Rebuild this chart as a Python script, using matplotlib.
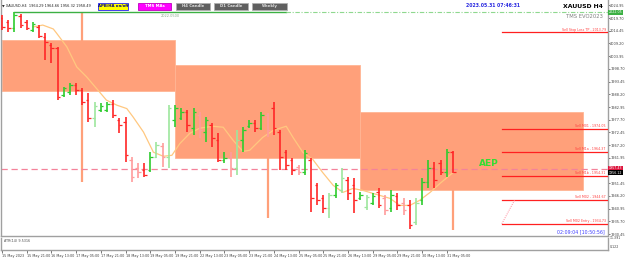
import matplotlib
matplotlib.use('Agg')
import matplotlib.pyplot as plt
from matplotlib.patches import Rectangle

# ---------------- data ----------------
opens = [2019.7, 2018.1, 2015.6, 2020.5, 2018.1, 2014.7, 2016.0, 2011.8, 2008.5, 2007.3,
         1987.8, 1989.1, 1992.0, 1989.9, 1985.8, 1978.3, 1981.6, 1981.6, 1984.1, 1977.5,
         1976.6, 1960.9, 1957.6, 1956.8, 1956.8, 1962.2, 1966.7, 1962.2, 1977.5, 1978.3,
         1980.8, 1974.2, 1979.6, 1972.5, 1975.4, 1969.2, 1960.9, 1961.8, 1957.6, 1969.2,
         1975.0, 1976.2, 1974.2, 1979.6, 1982.4, 1972.5, 1964.2, 1960.9, 1958.0, 1955.9,
         1960.9, 1950.6, 1945.2, 1941.1, 1946.4, 1948.5, 1952.6, 1950.6, 1945.2, 1941.5,
         1943.1, 1947.7, 1945.2, 1941.1, 1946.0, 1943.1, 1942.3, 1935.3, 1944.4, 1951.8,
         1957.6, 1959.7, 1955.9, 1964.29]
highs = [2020.9, 2018.9, 2022.05, 2021.4, 2018.9, 2018.1, 2016.8, 2013.5, 2009.4, 2007.7,
         1991.1, 1992.8, 1992.8, 1990.7, 1988.7, 1984.9, 1984.5, 1984.9, 1985.8, 1978.3,
         1978.7, 1962.2, 1959.7, 1959.7, 1964.2, 1968.4, 1967.9, 1983.7, 1983.7, 1982.4,
         1981.6, 1982.4, 1980.8, 1978.7, 1976.2, 1972.1, 1964.2, 1964.2, 1973.3, 1974.6,
         1977.5, 1977.5, 1980.8, 1980.4, 1984.9, 1973.3, 1965.1, 1961.8, 1958.9, 1965.1,
         1961.8, 1951.4, 1946.4, 1947.3, 1951.4, 1957.6, 1953.9, 1953.5, 1947.7, 1946.4,
         1947.3, 1949.3, 1946.4, 1948.5, 1947.3, 1945.2, 1944.4, 1945.2, 1953.5, 1960.9,
         1960.1, 1960.9, 1965.5, 1964.66]
lows = [2014.7, 2013.9, 2013.9, 2015.6, 2014.7, 2013.9, 2011.4, 2002.3, 2001.1, 1985.8,
        1987.0, 1987.8, 1987.8, 1983.7, 1976.7, 1974.6, 1980.8, 1980.8, 1978.3, 1972.1,
        1960.1, 1951.8, 1953.5, 1953.9, 1955.9, 1961.8, 1958.0, 1957.6, 1974.6, 1977.5,
        1972.5, 1971.3, 1970.0, 1968.4, 1966.3, 1960.1, 1959.7, 1953.9, 1954.7, 1964.2,
        1974.2, 1972.5, 1973.3, 1970.4, 1971.3, 1956.8, 1956.8, 1954.7, 1954.7, 1954.7,
        1939.4, 1942.3, 1939.0, 1936.9, 1945.2, 1947.3, 1944.4, 1939.0, 1944.4, 1940.2,
        1942.3, 1941.1, 1938.2, 1939.4, 1940.2, 1938.2, 1932.4, 1934.0, 1942.3, 1949.3,
        1949.3, 1954.7, 1953.9, 1955.80]
closes = [2016.0, 2015.6, 2020.9, 2016.8, 2015.6, 2017.2, 2012.3, 2009.8, 2007.3, 1987.0,
          1990.7, 1992.0, 1989.9, 1984.9, 1978.3, 1983.3, 1983.3, 1984.1, 1979.6, 1975.4,
          1963.0, 1953.9, 1955.9, 1954.7, 1962.2, 1967.1, 1962.2, 1982.4, 1982.4, 1980.8,
          1975.4, 1980.8, 1973.3, 1977.5, 1970.0, 1960.9, 1961.8, 1957.6, 1969.2, 1973.3,
          1976.2, 1974.2, 1979.6, 1973.3, 1974.2, 1962.2, 1958.9, 1956.8, 1955.9, 1963.8,
          1945.2, 1944.4, 1941.1, 1946.4, 1950.6, 1953.5, 1947.3, 1944.4, 1946.8, 1945.6,
          1946.0, 1942.3, 1940.2, 1946.4, 1942.3, 1940.2, 1934.0, 1943.5, 1951.8, 1957.6,
          1952.6, 1955.9, 1964.2, 1956.12]
light_bars = [15, 21, 22, 25, 26, 27, 32, 37, 38, 43, 48, 53, 55, 59, 62, 65, 67]

ma_idx = [5, 6.6, 8.3, 8.85, 10.5, 12.1, 13.7, 15.3, 16.9, 18.6, 20.2, 21.2, 22.9, 24.5,
          26.1, 27.5, 28.8, 30.4, 32, 34.1, 35.8, 37.4, 39, 40.1, 42.2, 43.9, 46, 47.1,
          48.7, 50.3, 51.9, 53.6, 55.2, 56.8, 58.4, 60, 61.2, 62.8, 64.4, 66, 67.6, 69.3,
          70.9, 73]
ma_val = [2016.0, 2016.8, 2015.2, 2013.4, 2007.8, 1999.5, 1995.4, 1990.6, 1985.8, 1983.7,
          1982.3, 1978.9, 1972.6, 1964.3, 1962.6, 1963.0, 1967.9, 1972.1, 1974.2, 1975.0,
          1974.6, 1969.2, 1964.6, 1965.1, 1970.4, 1973.3, 1975.0, 1970.4, 1964.2, 1961.3,
          1955.9, 1950.6, 1947.7, 1949.3, 1948.5, 1947.3, 1946.4, 1945.2, 1942.3, 1942.3,
          1944.4, 1947.7, 1951.4, 1955.9]

date_idx = [0, 4, 8, 12, 16, 20, 24, 28, 32, 36, 40, 44, 48, 52, 56, 60, 64, 68, 72]
date_labels = ["15 May 2023", "15 May 21:00", "16 May 13:00", "17 May 05:00", "17 May 21:00",
               "18 May 13:00", "19 May 05:00", "19 May 21:00", "22 May 13:00", "23 May 05:00",
               "23 May 21:00", "24 May 13:00", "25 May 05:00", "25 May 21:00", "26 May 13:00",
               "29 May 05:00", "29 May 21:00", "30 May 13:00", "31 May 05:00"]
# 1956.70 is hidden behind the price boxes in the reference
price_ticks = [2024.95, 2019.70, 2014.45, 2009.20, 2003.95, 1998.70, 1993.45, 1988.20,
               1982.95, 1977.70, 1972.45, 1967.20, 1961.95, 1951.45, 1946.20,
               1940.95, 1935.70, 1930.45]

box_start = [0, 28, 58]
box_end = [28, 58, 94]
box_top = [2010.6, 2000.25, 1980.9]
box_bottom = [1989.5, 1961.75, 1948.8]
wick_idx = [13, 43, 73]
wick_top = [2022.05, 1961.75, 1948.8]
wick_bottom = [1951.8, 1936.9, 1932.2]

high_level = 2022.05
aep_level = 1957.43
level_names = ["Sell Stop Loss TP", "Sell M01", "Sell M1a", "Sell M1b", "Sell M02", "Sell M02 Entry"]
level_prices = [2013.79, 1974.05, 1964.37, 1954.31, 1944.67, 1934.73]
level_start = 80.9
diag_idx = [80.9, 83.0]
diag_val = [1934.73, 1944.67]

# ---------------- layout ----------------
W, H = 625, 258
def fx(px):
    return px / W
def fy(py):
    return 1 - py / H

fig = plt.figure(figsize=(6.25, 2.58), dpi=100)
fig.patch.set_facecolor('white')

ax = fig.add_axes([fx(1), fy(236), fx(607.5) - fx(1), fy(0) - fy(236)])
ax2 = fig.add_axes([fx(1), fy(250), fx(607.5) - fx(1), fy(238) - fy(250)], sharex=ax)

xmin, xmax = -0.16, 98.0
ax.set_xlim(xmin, xmax)
ax.set_ylim(1929.66, 2027.16)

gray = '#A0A0A0'
for a in (ax, ax2):
    a.set_facecolor('white')
    for s in ('left', 'bottom', 'right'):
        a.spines[s].set_color(gray)
        a.spines[s].set_linewidth(1.0)
    a.spines['top'].set_visible(False)

# weekly boxes
salmon = '#FFA07A'
for s, e, t, b in zip(box_start, box_end, box_top, box_bottom):
    ax.add_patch(Rectangle((s, b), e - s, t - b, facecolor=salmon, edgecolor='#FFB594',
                           linewidth=0.6, zorder=1))
ax.vlines(wick_idx, wick_bottom, wick_top, colors=salmon, linewidth=1.6, zorder=1.2)

# high level line
ax.plot([2, 46], [high_level, high_level], color='#3CB043', linewidth=1.0, zorder=2)
ax.plot([46, xmax], [high_level, high_level], color='#8FD88F', linewidth=0.8,
        linestyle=(0, (4, 1.5, 1, 1.5)), zorder=2)
ax.text(27.2, high_level - 0.8, "2022.0500", fontsize=2.5, color='#8AAA8A',
        ha='center', va='top', zorder=5)

# AEP dashed line
ax.plot([xmin, xmax], [aep_level, aep_level], color='#F4829A', linewidth=0.9,
        linestyle=(0, (5, 3)), zorder=2.2)
ax.text(77.2, 1959.6, "AEP", fontsize=6.5, fontweight='bold', color='#33DD33',
        ha='left', va='center', zorder=6)

# moving average
ax.plot(ma_idx, ma_val, color='#FFC880', linewidth=0.9, zorder=2.5)

# bars
n = len(opens)
idx = list(range(n))
cols = []
for i in idx:
    up = closes[i] >= opens[i]
    lt = i in light_bars
    if up:
        cols.append('#9DE69D' if lt else '#2ECC2E')
    else:
        cols.append('#FF9C9C' if lt else '#FF2626')
ax.vlines(idx, lows, highs, colors=cols, linewidth=1.2, zorder=3)
ax.hlines(opens, [i - 0.42 for i in idx], idx, colors=cols, linewidth=0.9, zorder=3)
ax.hlines(closes, idx, [i + 0.42 for i in idx], colors=cols, linewidth=0.9, zorder=3)

# sell levels
for name, p in zip(level_names, level_prices):
    ax.plot([level_start, xmax], [p, p], color='#FF2020', linewidth=0.9, zorder=4)
    ax.text(xmax - 0.3, p + 0.35, f"{name} - {p:.2f}", fontsize=2.3, color='#FF4040',
            ha='right', va='bottom', zorder=5)
ax.plot(diag_idx, diag_val, color='#FF8A9A', linewidth=0.7, linestyle=(0, (1, 1.2)), zorder=4)

# axes ticks
ax.yaxis.tick_right()
ax.set_yticks(price_ticks)
ax.set_yticklabels([f"{v:.2f}" for v in price_ticks])
ax.tick_params(axis='y', labelsize=2.5, length=1.5, width=0.5, pad=0.4, colors='#404040')
ax.tick_params(axis='x', bottom=False, labelbottom=False)

ax2.set_ylim(0, 1)
ax2.set_yticks([])
ax2.set_xticks(date_idx)
ax2.set_xticklabels(date_labels, ha='left')
ax2.tick_params(axis='x', labelsize=2.4, length=2, width=0.5, pad=1, colors='#404040')
ax2.text(0.3, 0.75, "ATR(14) 9.5316", fontsize=2.4, color='#505050', ha='left', va='center')

fig.text(fx(609.5), fy(238.0), "11.391", fontsize=2.3, color='#404040', ha='left', va='center')
fig.text(fx(609.5), fy(246.5), "0.122", fontsize=2.3, color='#404040', ha='left', va='center')

# price boxes on right axis
def price_box(py, txt, fc, tc):
    fig.text(fx(608.6), fy(py), txt, fontsize=2.3, color=tc, ha='left', va='center',
             bbox=dict(boxstyle='square,pad=0.15', facecolor=fc, edgecolor='none'), zorder=10)

price_box(12.3, "2022.05", '#3CB043', 'white')
price_box(168.2, "1957.43", '#DC143C', 'white')
price_box(172.6, "1956.12", '#000000', 'white')

# header
fig.text(fx(2), fy(5.5), "\u25bc XAUUSD,H4  1964.29 1964.66 1956.32 1958.49", fontsize=2.5,
         color='#202020', ha='left', va='center')

def button(x0, x1, label, fc, ec, tc):
    fig.add_artist(Rectangle((fx(x0), fy(9.5)), fx(x1) - fx(x0), fy(2.5) - fy(9.5),
                             transform=fig.transFigure, facecolor=fc, edgecolor=ec,
                             linewidth=0.6, zorder=8))
    fig.text(fx((x0 + x1) / 2), fy(6.0), label, fontsize=2.8, fontweight='bold',
             color=tc, ha='center', va='center', zorder=9)

button(97.7, 128.3, "APB/HA on/off", '#FFFF00', '#2020FF', '#000080')
button(138.0, 171.0, "TMS MAs", '#FF00FF', '#C000C0', 'white')
button(176.0, 210.0, "H4 Candle", '#606060', '#B0B0B0', '#E0E0E0')
button(214.0, 248.0, "D1 Candle", '#606060', '#B0B0B0', '#E0E0E0')
button(252.0, 287.0, "Weekly", '#606060', '#B0B0B0', '#E0E0E0')

fig.text(fx(493), fy(5.5), "2023.05.31 07:46:31", fontsize=3.3, fontweight='bold',
         color='#2828E0', ha='center', va='center')
fig.text(fx(603), fy(7.0), "XAUUSD H4", fontsize=4.4, fontweight='bold',
         color='#000000', ha='right', va='center')
fig.text(fx(603), fy(16.0), "TMS EVO2023", fontsize=3.8, color='#808080',
         ha='right', va='center')
fig.text(fx(605), fy(231.7), "02:09:04 [10:50:56]", fontsize=3.4, color='#4040FF',
         ha='right', va='center')

fig.savefig('out.png', dpi=100, facecolor='white')
